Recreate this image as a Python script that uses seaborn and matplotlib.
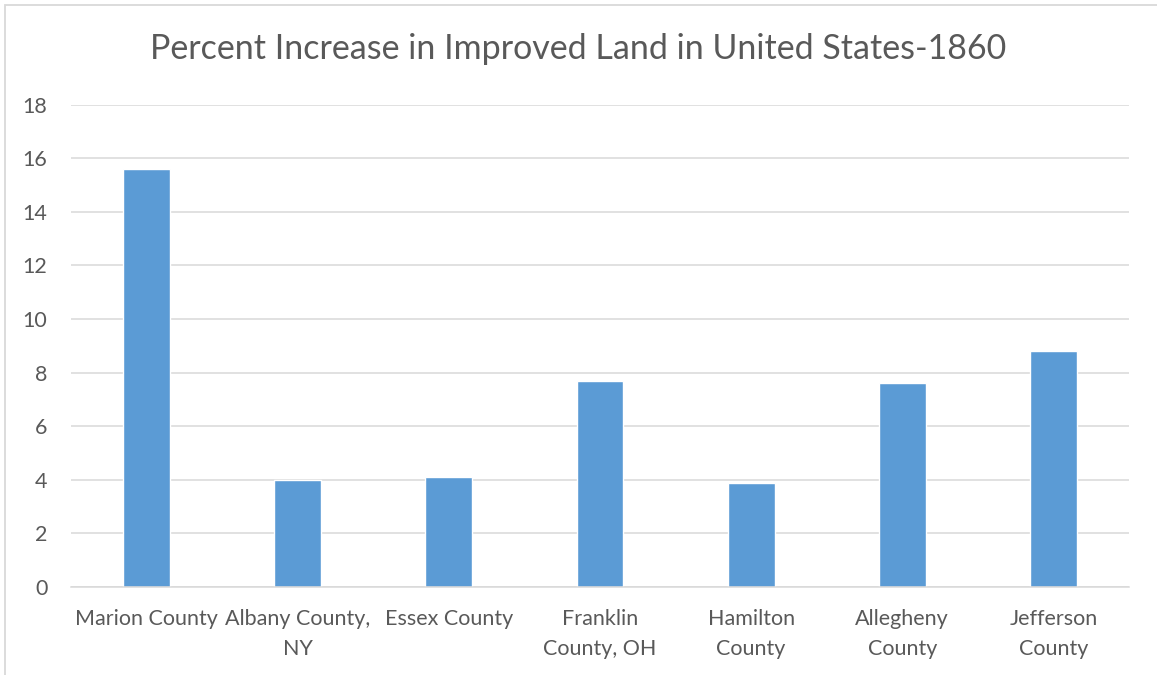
import matplotlib
matplotlib.use("Agg")
import matplotlib.pyplot as plt
from matplotlib.patches import Rectangle
import seaborn as sns
import pandas as pd

counties = ["Marion County", "Albany County, NY", "Essex County", "Franklin County, OH",
            "Hamilton County", "Allegheny County", "Jefferson County"]
tick_labels = ["Marion County", "Albany County,\nNY", "Essex County", "Franklin\nCounty, OH",
               "Hamilton\nCounty", "Allegheny\nCounty", "Jefferson\nCounty"]
pct_increase = [15.6, 4.0, 4.1, 7.7, 3.9, 7.6, 8.8]
y_ticks = [0, 2, 4, 6, 8, 10, 12, 14, 16, 18]

df = pd.DataFrame({"county": counties, "pct": pct_increase})

sns.set_theme(style="white")
plt.rcParams["font.family"] = ["Lato", "DejaVu Sans"]

text_color = "#595959"
grid_color = "#d9d9d9"
bar_color = "#5b9bd5"

fig = plt.figure(figsize=(11.57, 6.75), dpi=100)
ax = fig.add_axes([71 / 1157, 1 - 587 / 675, (1129 - 71) / 1157, (587 - 104.7) / 675])

sns.barplot(data=df, x="county", y="pct", color=bar_color, saturation=1,
            width=0.31, ax=ax, zorder=3)

ax.set_ylim(0, 18)
ax.set_xlim(-0.5, len(counties) - 0.5)
ax.set_yticks(y_ticks)
ax.set_yticklabels([str(t) for t in y_ticks], color=text_color, fontsize=15.5)
ax.set_xticks(range(len(counties)))
ax.set_xticklabels(tick_labels, color=text_color, fontsize=15.5, linespacing=1.6)
ax.tick_params(axis="both", length=0)
ax.tick_params(axis="y", pad=17)
ax.tick_params(axis="x", pad=16)
ax.set_xlabel("")
ax.set_ylabel("")

ax.yaxis.grid(True, color=grid_color, linewidth=1.1, zorder=0)
for side in ["top", "right", "left"]:
    ax.spines[side].set_visible(False)
ax.spines["bottom"].set_color(grid_color)
ax.spines["bottom"].set_linewidth(1.1)
ax.spines["bottom"].set_zorder(4)

fig.text(0.5, 1 - 49 / 675, "Percent Increase in Improved Land in United States-1860",
         ha="center", va="center", fontsize=24.5, color=text_color)

# chart frame
fig.patches.append(Rectangle((5 / 1157, -0.1), 1.2, 1 - 5 / 675 + 0.1,
                             transform=fig.transFigure, fill=False,
                             edgecolor=grid_color, linewidth=1.3))

fig.savefig("out.png", dpi=100, facecolor="white")
